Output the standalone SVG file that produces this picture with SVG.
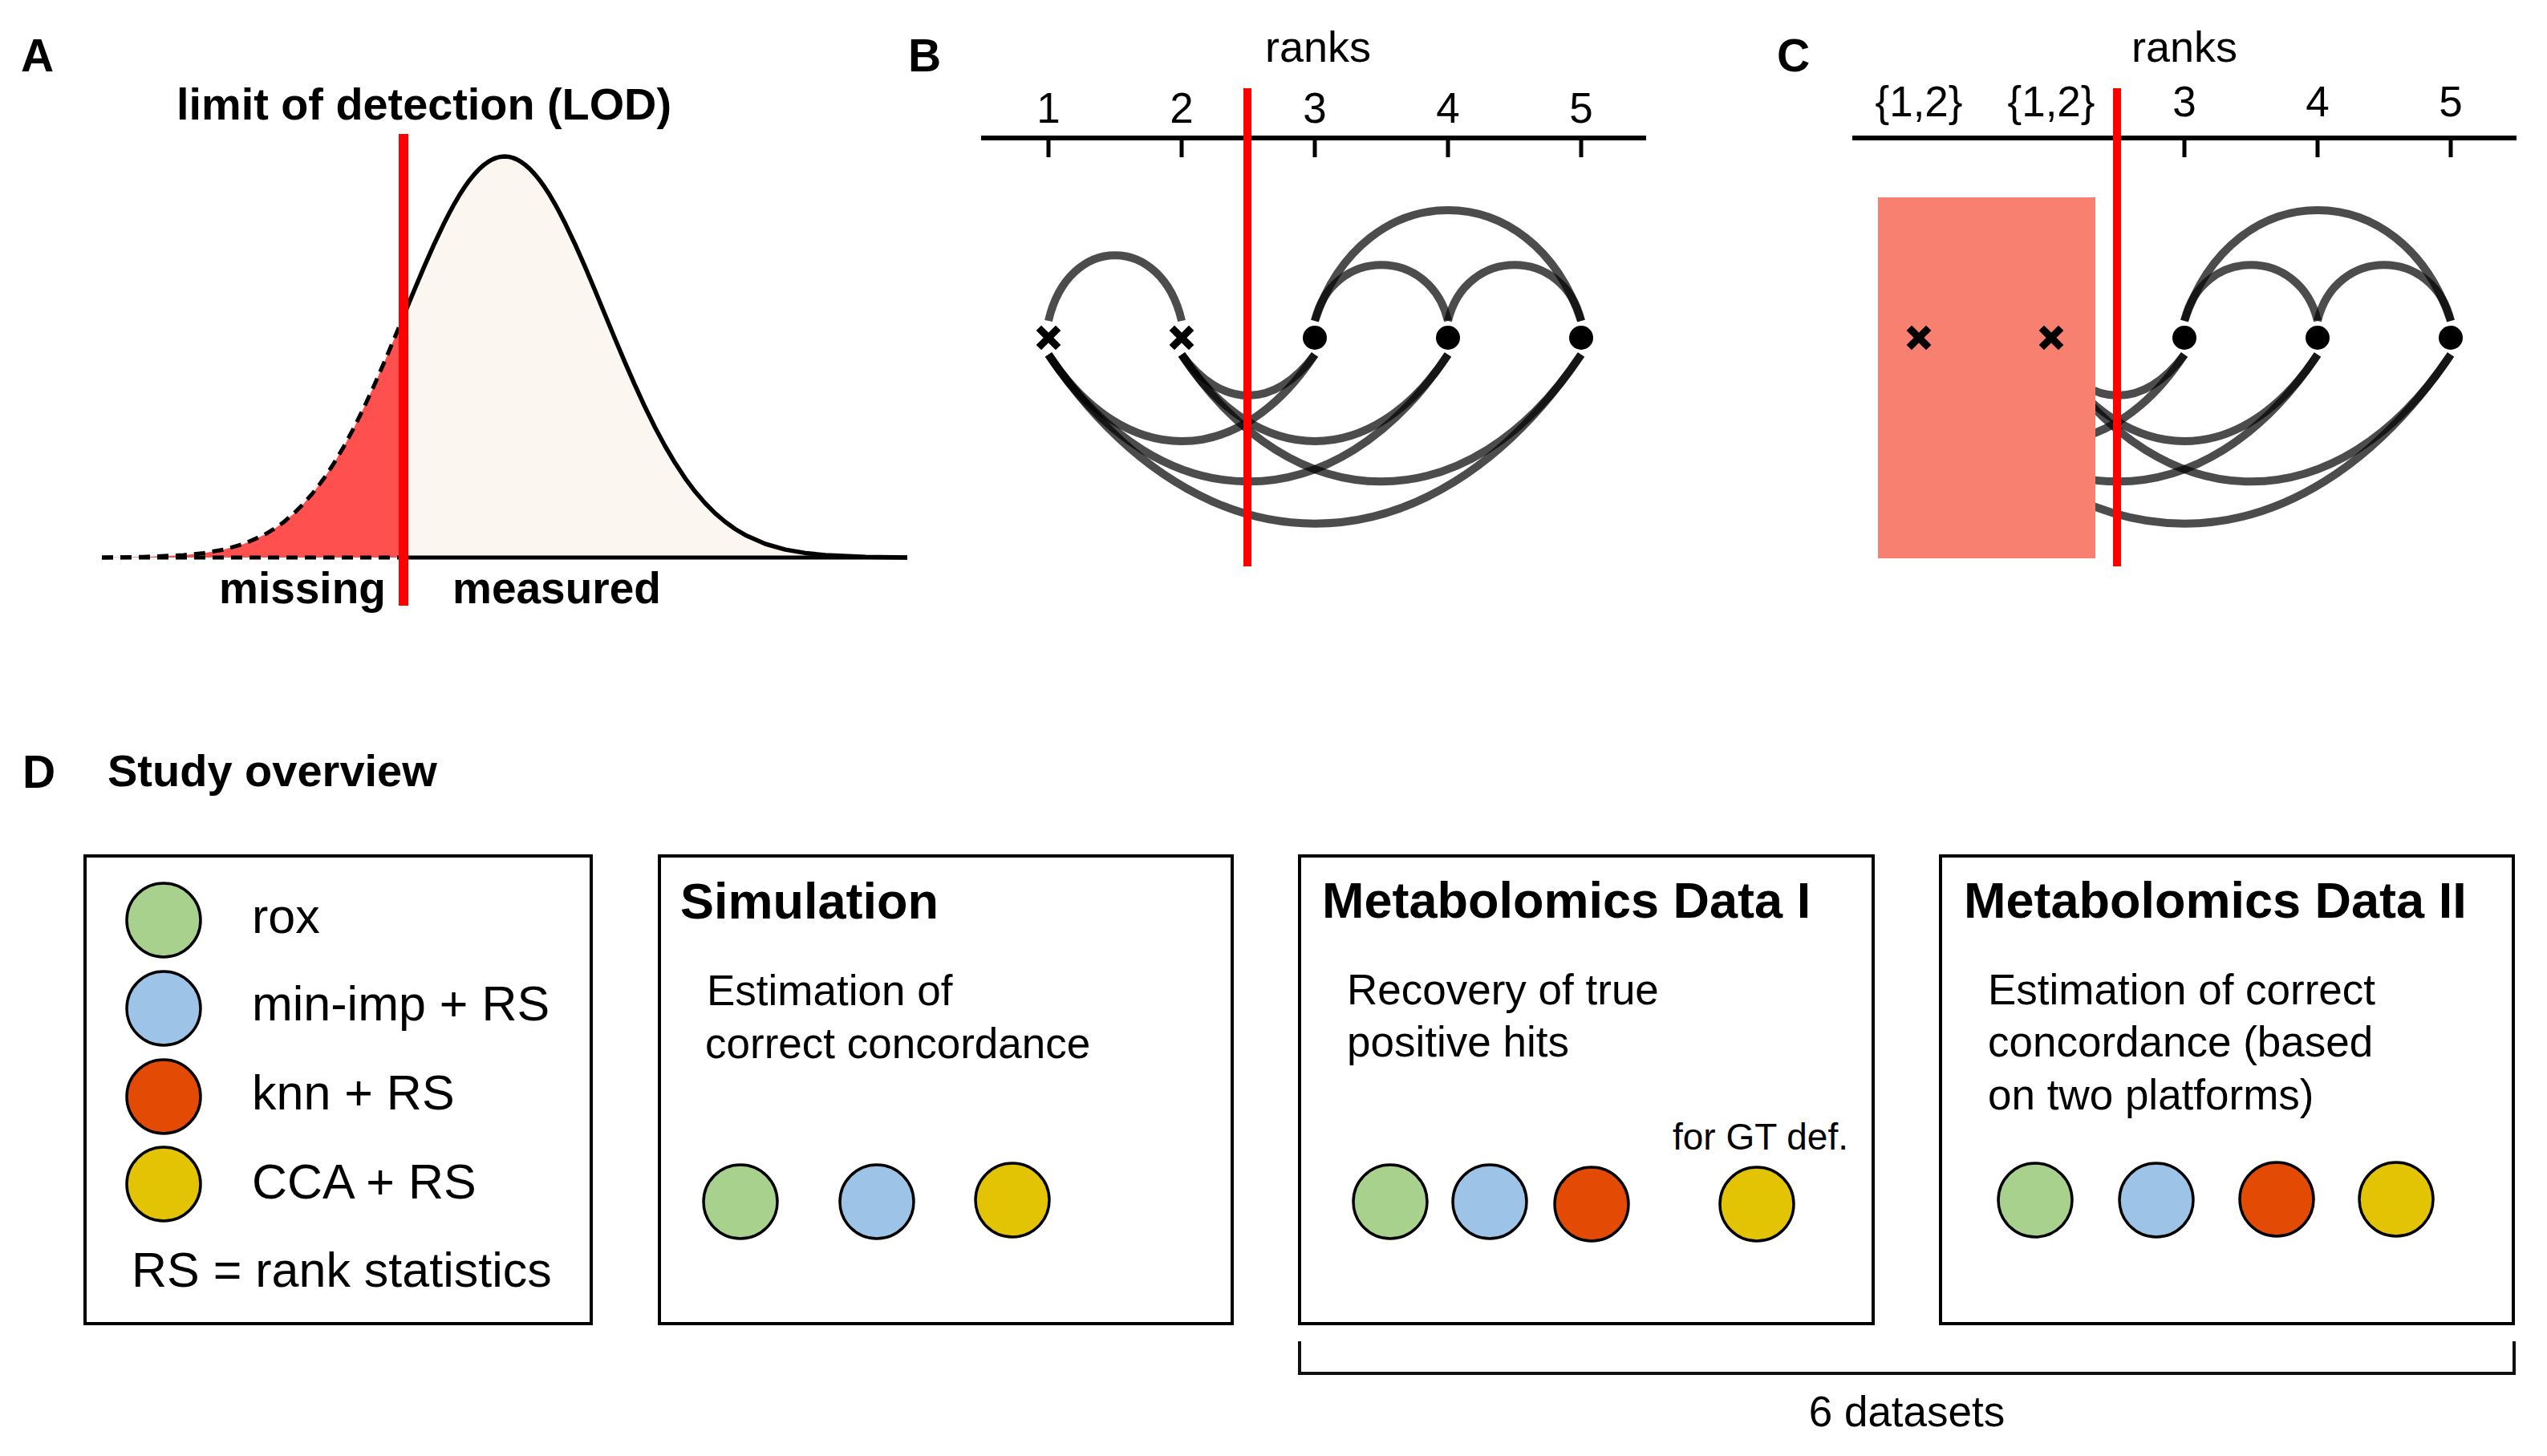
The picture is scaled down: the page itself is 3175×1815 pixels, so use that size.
<svg xmlns="http://www.w3.org/2000/svg" width="3175" height="1815" viewBox="0 0 3175 1815">
<style>
text{font-family:"Liberation Sans",Arial,Helvetica,sans-serif;fill:#000}
.b{font-weight:bold}
.panel{font-size:57px;font-weight:bold}
.arc{fill:none;stroke:#000;stroke-opacity:.7;stroke-width:10}
.axis{stroke:#000;stroke-width:6;fill:none}
.tick{stroke:#000;stroke-width:5}
.lod{fill:#FF0000}
.cross{stroke:#000;stroke-width:9;stroke-linecap:square}
.box{fill:#fff;stroke:#000;stroke-width:4}
.dotc{stroke:#000;stroke-width:3.5}
.g{fill:#A9D18E}.bl{fill:#9DC3E6}.r{fill:#E34B05}.y{fill:#E2C404}
.lg{font-size:61px}
.ttl{font-size:63px;font-weight:bold}
.desc{font-size:53px}
.num{font-size:53px;text-anchor:middle}
</style>
<rect width="3175" height="1815" fill="#fff"/>

<g id="panelA">
<text class="panel" x="26" y="89">A</text>
<text class="b" x="220" y="149" font-size="56" textLength="617" lengthAdjust="spacingAndGlyphs">limit of detection (LOD)</text>
<path fill="#FF5050" d="M127,695 L179,694.2 229,692 254,689.4 279,685.1 304,678 329,666.9 341.5,659.5 354,650.5 366.5,639.9 379,627.3 391.5,612.8 404,596.1 416.5,577.1 429,556 441.5,532.7 454,507.3 466.5,480.2 479,451.6 491.5,422 503,394.1 L503,695 Z"/>
<path fill="#FBF7F0" d="M503,394.1 L504,391.7 516.5,361.5 529,331.9 541.5,303.7 554,277.4 560.25,265.2 566.5,253.8 572.75,243.1 579,233.4 585.25,224.7 591.5,217 597.75,210.4 604,204.9 609,201.4 614,198.6 619,196.6 624,195.4 629,195 634,195.4 639,196.6 644,198.6 649,201.4 654,204.9 660.25,210.4 666.5,217 672.75,224.7 679,233.4 685.25,243.1 691.5,253.8 697.75,265.2 704,277.4 716.5,303.7 729,331.9 741.5,361.5 754,391.7 766.5,422 779,451.6 791.5,480.2 804,507.3 816.5,532.7 829,556 841.5,577.1 854,596.1 866.5,612.8 879,627.3 891.5,639.9 904,650.5 916.5,659.5 929,666.9 954,678 979,685.1 1004,689.4 1029,692 1079,694.2 1131,695 L503,695 Z"/>
<path fill="none" stroke="#000" stroke-width="5" stroke-dasharray="14 9" d="M127,695 L179,694.2 229,692 254,689.4 279,685.1 304,678 329,666.9 341.5,659.5 354,650.5 366.5,639.9 379,627.3 391.5,612.8 404,596.1 416.5,577.1 429,556 441.5,532.7 454,507.3 466.5,480.2 479,451.6 491.5,422 503,394.1"/>
<path fill="none" stroke="#000" stroke-width="5" stroke-dasharray="14 9" d="M127,695 H503"/>
<path fill="none" stroke="#000" stroke-width="5.5" stroke-linejoin="round" d="M503,394.1 L504,391.7 516.5,361.5 529,331.9 541.5,303.7 554,277.4 560.25,265.2 566.5,253.8 572.75,243.1 579,233.4 585.25,224.7 591.5,217 597.75,210.4 604,204.9 609,201.4 614,198.6 619,196.6 624,195.4 629,195 634,195.4 639,196.6 644,198.6 649,201.4 654,204.9 660.25,210.4 666.5,217 672.75,224.7 679,233.4 685.25,243.1 691.5,253.8 697.75,265.2 704,277.4 716.5,303.7 729,331.9 741.5,361.5 754,391.7 766.5,422 779,451.6 791.5,480.2 804,507.3 816.5,532.7 829,556 841.5,577.1 854,596.1 866.5,612.8 879,627.3 891.5,639.9 904,650.5 916.5,659.5 929,666.9 954,678 979,685.1 1004,689.4 1029,692 1079,694.2 1131,695"/>
<path fill="none" stroke="#000" stroke-width="5" d="M503,695 H1131"/>
<rect class="lod" x="497" y="167" width="12" height="588"/>
<text class="b" x="273" y="752" font-size="55">missing</text>
<text class="b" x="564" y="752" font-size="55">measured</text>
</g>

<g id="panelB">
<text class="panel" x="1132" y="89">B</text>
<text x="1577" y="77" font-size="54">ranks</text>
<text class="num" x="1307" y="153">1</text>
<text class="num" x="1473" y="153">2</text>
<text class="num" x="1639" y="153">3</text>
<text class="num" x="1805" y="153">4</text>
<text class="num" x="1971" y="153">5</text>
<path class="axis" d="M1223,172 H2052"/>
<path class="tick" d="M1307,172 V196 M1473,172 V196 M1639,172 V196 M1805,172 V196 M1971,172 V196"/>
<g id="arcsB">
<path class="arc" d="M1307,400 C1332,291 1448,291 1473,400"/>
<path class="arc" d="M1639,400 C1661,307 1783,307 1805,400"/>
<path class="arc" d="M1805,400 C1827,307 1949,307 1971,400"/>
<path class="arc" d="M1639,400 C1699,216 1911,216 1971,400"/>
<path class="arc" d="M1473,442 C1523,510 1589,510 1639,442"/>
<path class="arc" d="M1307,442 C1402,586 1544,586 1639,442"/>
<path class="arc" d="M1473,442 C1568,586 1710,586 1805,442"/>
<path class="arc" d="M1307,442 C1447,653 1665,653 1805,442"/>
<path class="arc" d="M1473,442 C1613,653 1831,653 1971,442"/>
<path class="arc" d="M1307,442 C1497,723 1781,723 1971,442"/>
</g>
<path class="cross" d="M1298,412 L1316,430 M1316,412 L1298,430"/>
<path class="cross" d="M1464,412 L1482,430 M1482,412 L1464,430"/>
<circle cx="1639" cy="421" r="15"/>
<circle cx="1805" cy="421" r="15"/>
<circle cx="1971" cy="421" r="15"/>
<rect class="lod" x="1550" y="110" width="10" height="596"/>
</g>

<g id="panelC">
<text class="panel" x="2215" y="89">C</text>
<text x="2657" y="77" font-size="54">ranks</text>
<text class="num" x="2392" y="145">{1,2}</text>
<text class="num" x="2557" y="145">{1,2}</text>
<text class="num" x="2723" y="145">3</text>
<text class="num" x="2889" y="145">4</text>
<text class="num" x="3055" y="145">5</text>
<path class="axis" d="M2309,172 H3137"/>
<path class="tick" d="M2723,172 V196 M2889,172 V196 M3055,172 V196"/>
<g id="arcsC">
<path class="arc" d="M2723,400 C2745,307 2867,307 2889,400"/>
<path class="arc" d="M2889,400 C2911,307 3033,307 3055,400"/>
<path class="arc" d="M2723,400 C2783,216 2995,216 3055,400"/>
<path class="arc" d="M2557,442 C2607,510 2673,510 2723,442"/>
<path class="arc" d="M2391,442 C2486,586 2628,586 2723,442"/>
<path class="arc" d="M2557,442 C2652,586 2794,586 2889,442"/>
<path class="arc" d="M2391,442 C2531,653 2749,653 2889,442"/>
<path class="arc" d="M2557,442 C2697,653 2915,653 3055,442"/>
<path class="arc" d="M2391,442 C2581,723 2865,723 3055,442"/>
</g>
<rect x="2341" y="246" width="271" height="450" fill="#F88070"/>
<path class="cross" d="M2383,412 L2401,430 M2401,412 L2383,430"/>
<path class="cross" d="M2548,412 L2566,430 M2566,412 L2548,430"/>
<circle cx="2723" cy="421" r="15"/>
<circle cx="2889" cy="421" r="15"/>
<circle cx="3055" cy="421" r="15"/>
<rect class="lod" x="2634" y="110" width="10" height="596"/>
</g>

<g id="panelD">
<text class="panel" x="28" y="982">D</text>
<text class="b" x="134" y="980" font-size="56">Study overview</text>
</g>

<g id="legend">
<rect class="box" x="106" y="1067" width="631" height="583"/>
<circle class="dotc g" cx="204" cy="1147" r="46"/>
<circle class="dotc bl" cx="204" cy="1257" r="46"/>
<circle class="dotc r" cx="204" cy="1367" r="46"/>
<circle class="dotc y" cx="204" cy="1476" r="46"/>
<text class="lg" x="314" y="1163">rox</text>
<text class="lg" x="314" y="1272">min-imp + RS</text>
<text class="lg" x="314" y="1383">knn + RS</text>
<text class="lg" x="314" y="1494">CCA + RS</text>
<text class="lg" x="164" y="1604">RS = rank statistics</text>
</g>

<g id="simulation">
<rect class="box" x="822" y="1067" width="714" height="583"/>
<text class="ttl" x="848" y="1145">Simulation</text>
<text class="desc" x="881" y="1253">Estimation of</text>
<text class="desc" x="879" y="1319">correct concordance</text>
<circle class="dotc g" cx="923" cy="1498" r="46"/>
<circle class="dotc bl" cx="1093" cy="1498" r="46"/>
<circle class="dotc y" cx="1262" cy="1496" r="46"/>
</g>

<g id="metabolomics1">
<rect class="box" x="1620" y="1067" width="715" height="583"/>
<text class="ttl" x="1648" y="1144">Metabolomics Data I</text>
<text class="desc" x="1679" y="1252">Recovery of true</text>
<text class="desc" x="1679" y="1317">positive hits</text>
<text x="2085" y="1433" font-size="46">for GT def.</text>
<circle class="dotc g" cx="1733" cy="1498" r="46"/>
<circle class="dotc bl" cx="1857" cy="1498" r="46"/>
<circle class="dotc r" cx="1984" cy="1501" r="46"/>
<circle class="dotc y" cx="2190" cy="1501" r="46"/>
</g>

<g id="metabolomics2">
<rect class="box" x="2419" y="1067" width="714" height="583"/>
<text class="ttl" x="2448" y="1144">Metabolomics Data II</text>
<text class="desc" x="2478" y="1252">Estimation of correct</text>
<text class="desc" x="2478" y="1317">concordance (based</text>
<text class="desc" x="2478" y="1383">on two platforms)</text>
<circle class="dotc g" cx="2537" cy="1496" r="46"/>
<circle class="dotc bl" cx="2688" cy="1496" r="46"/>
<circle class="dotc r" cx="2838" cy="1495" r="46"/>
<circle class="dotc y" cx="2987" cy="1495" r="46"/>
</g>

<g id="connectors">
<path fill="none" stroke="#111" stroke-width="4" d="M1620,1672 V1712 H3134 V1672"/>
<text x="2377" y="1778" font-size="53" text-anchor="middle">6 datasets</text>
</g>
</svg>
